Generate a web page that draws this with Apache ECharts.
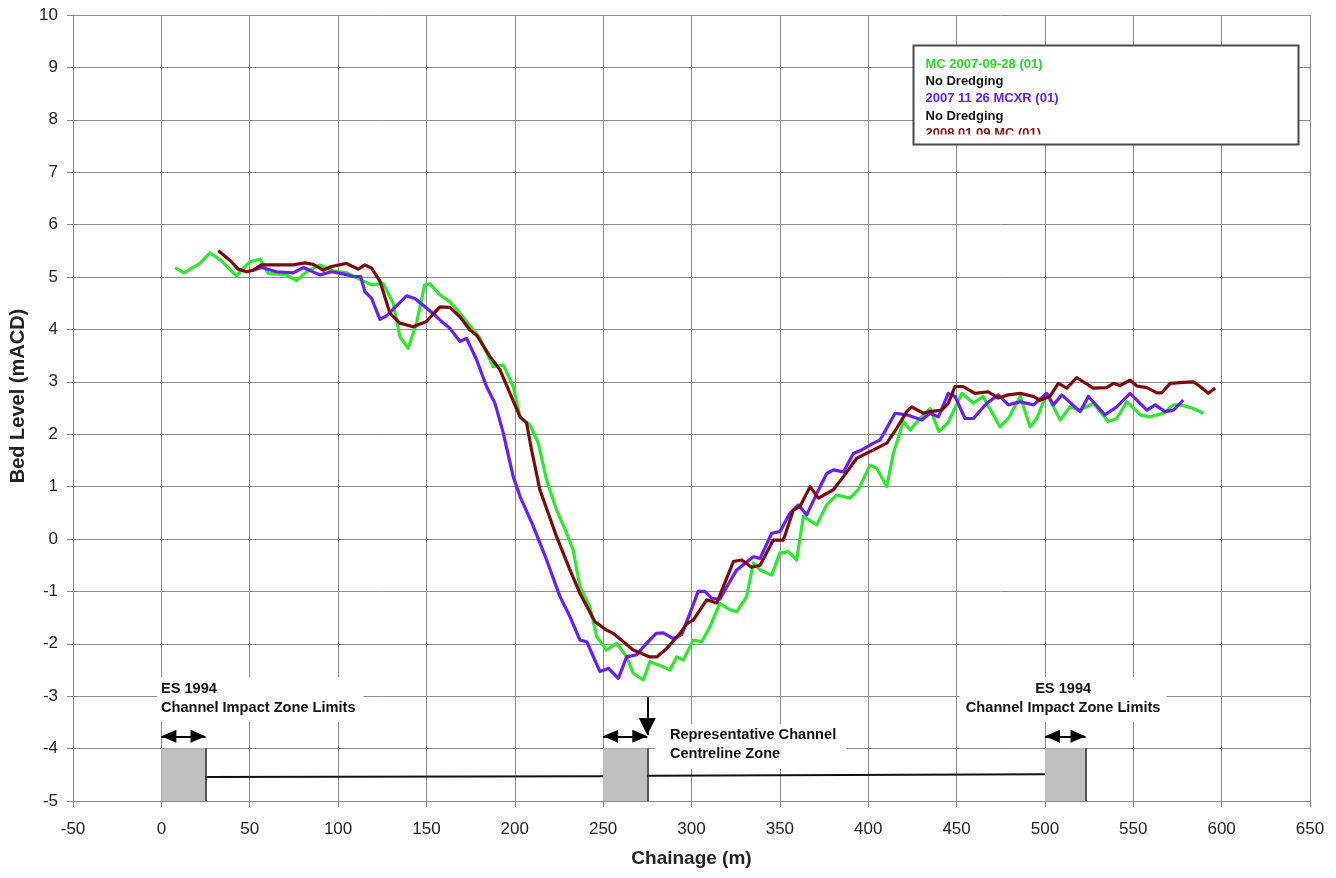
<!DOCTYPE html>
<html>
<head>
<meta charset="utf-8">
<title>Bed Level Cross Section</title>
<script src="https://cdn.jsdelivr.net/npm/echarts@6/dist/echarts.min.js"></script>
<style>
  html, body { margin: 0; padding: 0; background: #ffffff; }
  #chart { width: 1336px; height: 878px; }
</style>
</head>
<body>
<div id="chart"></div>
<script>
// Surveyed bed level profiles: [chainage (m), bed level (mACD)]
const survey2007Sep = [
  [7.7,5.18],[12.9,5.08],[21.8,5.26],[27.5,5.46],[34,5.31],[42.5,5.02],[50,5.29],[55.8,5.34],
  [60.5,5.07],[70.9,5.04],[76.5,4.93],[82.2,5.10],[89.7,5.23],[97,5.12],[104.8,5.08],[113.3,4.94],
  [119,4.85],[125.5,4.88],[131.2,4.50],[135,3.86],[139.7,3.64],[144.4,4.12],[149,4.85],[152,4.87],
  [157.6,4.66],[163.3,4.53],[168,4.35],[172.7,4.15],[180,3.85],[187.8,3.29],[193.5,3.32],[199.1,2.91],
  [203,2.33],[208.6,2.18],[213.3,1.83],[218,1.13],[223.7,0.55],[229.4,0.11],[233,-0.21],[236.9,-0.91],
  [242.5,-1.29],[246.3,-1.86],[252,-2.12],[257.6,-1.99],[263.3,-2.25],[267,-2.56],[272.7,-2.69],
  [276.5,-2.34],[284,-2.44],[287.8,-2.50],[291.6,-2.25],[295.4,-2.31],[301,-1.93],[305.8,-1.96],
  [310.5,-1.67],[316,-1.23],[321.8,-1.35],[325.6,-1.39],[331.2,-1.10],[335,-0.46],[338.8,-0.59],
  [345.4,-0.69],[350,-0.27],[354.8,-0.24],[359.5,-0.40],[363.3,0.43],[370.9,0.27],[376.5,0.65],
  [382.2,0.84],[389.7,0.78],[394.4,0.94],[401,1.41],[404.8,1.35],[410.5,1.00],[414.2,1.63],
  [419.9,2.24],[423.7,2.08],[429.3,2.30],[435,2.49],[440,2.05],[445,2.21],[453,2.78],[459.5,2.59],
  [465,2.72],[474.6,2.14],[479.3,2.30],[486,2.72],[491.6,2.14],[495.4,2.30],[501,2.78],[508.6,2.27],
  [514.2,2.52],[519.9,2.46],[527.4,2.59],[535.9,2.24],[540.6,2.30],[546.3,2.62],[553.9,2.37],
  [559.5,2.33],[567,2.40],[572.7,2.56],[576.5,2.56],[584,2.49],[589.7,2.40]
];

const survey2007Nov = [
  [52,5.13],[56.7,5.18],[65.2,5.10],[74.6,5.08],[80.3,5.18],[89.7,5.04],[96.3,5.10],[102.9,5.06],
  [108.6,5.01],[112.7,5.01],[115.2,4.72],[119,4.59],[123.7,4.19],[127.5,4.26],[133,4.45],[138.8,4.64],
  [143.5,4.59],[148.5,4.45],[153.9,4.30],[158.6,4.15],[163.3,4.02],[169,3.77],[172.7,3.83],[178.4,3.42],
  [184,2.91],[188.8,2.59],[193.5,2.02],[199.1,1.19],[203,0.81],[210.5,0.24],[218,-0.40],[225.6,-1.10],
  [231.2,-1.48],[236.9,-1.93],[240.7,-1.96],[248.2,-2.53],[253,-2.47],[258.6,-2.66],[263.3,-2.25],
  [269,-2.21],[274.6,-1.99],[280,-1.80],[284,-1.79],[289.7,-1.90],[294.4,-1.83],[299.1,-1.42],
  [303.8,-1.00],[307.6,-1.00],[311.4,-1.13],[316,-1.15],[320,-0.91],[325.6,-0.59],[335,-0.34],
  [338.8,-0.37],[345.4,0.11],[350,0.14],[355.7,0.49],[360.5,0.65],[365.2,0.46],[370.9,0.87],
  [376.5,1.25],[380.3,1.32],[386,1.28],[391.6,1.63],[396.3,1.70],[403,1.83],[406.7,1.89],[415.2,2.40],
  [421.8,2.37],[430.3,2.27],[435,2.40],[439.7,2.33],[445.3,2.78],[449.1,2.72],[454.8,2.30],[459.5,2.30],
  [467.1,2.59],[473.6,2.75],[479.3,2.56],[486,2.62],[493.5,2.56],[501,2.78],[504.8,2.56],[509.5,2.75],
  [519.9,2.43],[524.6,2.72],[534,2.37],[540.6,2.52],[548.2,2.78],[557.7,2.46],[562.4,2.56],[568,2.43],
  [572.7,2.46],[578.3,2.65]
];

const survey2008Jan = [
  [32.2,5.50],[38.8,5.32],[43.5,5.15],[48.2,5.10],[52,5.13],[56.7,5.23],[65.2,5.23],[74.6,5.23],
  [81.2,5.27],[85.9,5.24],[91.6,5.13],[96.3,5.20],[104.8,5.26],[107.6,5.21],[111.4,5.15],[115.2,5.23],
  [119,5.17],[123.7,4.92],[126.5,4.62],[129.3,4.31],[135,4.12],[142.5,4.05],[150,4.15],[157.6,4.43],
  [163.3,4.42],[169,4.24],[174.6,3.99],[178.4,3.89],[186,3.48],[191.6,3.23],[197.3,2.78],[203,2.33],
  [206.7,2.21],[209.5,1.70],[214.2,0.94],[223.7,0.04],[231.2,-0.59],[236.9,-1.04],[245.4,-1.58],
  [252,-1.74],[255.7,-1.80],[261.4,-1.96],[267,-2.12],[276.5,-2.25],[280.3,-2.25],[286,-2.09],
  [293.5,-1.80],[297.3,-1.62],[301,-1.55],[308.6,-1.16],[314.3,-1.22],[323.7,-0.43],[328.4,-0.40],
  [334,-0.54],[338.8,-0.50],[346.3,-0.02],[352,-0.02],[357.6,0.55],[361.4,0.62],[367.1,1.00],
  [371.8,0.78],[380.3,0.94],[386,1.19],[393.5,1.54],[403,1.70],[410.5,1.83],[416.1,2.11],[421.8,2.43],
  [424.6,2.52],[431.2,2.40],[435,2.43],[441.6,2.46],[445.3,2.59],[449.1,2.91],[453.8,2.91],[460.4,2.78],
  [467.9,2.81],[473.6,2.69],[479.3,2.75],[486,2.78],[493.5,2.72],[497.2,2.65],[502.8,2.72],[507.6,2.97],
  [512.4,2.88],[518,3.08],[527.4,2.88],[535,2.89],[538.7,2.97],[542.5,2.93],[548.2,3.03],[552,2.92],
  [557.7,2.89],[563.4,2.79],[566.1,2.79],[570.9,2.97],[578.3,2.99],[584,3.00],[587.8,2.91],[592.5,2.78],
  [596.3,2.88]
];

const seriesNames = ['MC 2007-09-28 (01)', '2007 11 26 MCXR (01)', '2008 01 09 MC (01)'];
const seriesColors = ['#2ee82e', '#6a1ef0', '#7d0a0a'];

// Legend text lines: [text, rich style key]
const legendLines = [
  ['MC 2007-09-28 (01)', 'g'],
  ['No Dredging', 'k'],
  ['2007 11 26 MCXR (01)', 'p'],
  ['No Dredging', 'k'],
  ['2008 01 09 MC (01)', 'r']
];

// Channel zone annotations (chainage in m, level in mACD)
const zoneSpans = [[0, 25], [250, 275], [500, 523]];
const zoneTop = -4;
const zoneBottom = -5;
const baselineSegments = [
  [[25, -4.54], [250, -4.53]],
  [[275, -4.52], [500, -4.49]]
];
const spanArrowLevel = -3.765;
const centrelineArrow = [[275, -3.02], [275, -3.74]];
const zoneLabels = [
  { text: 'ES 1994\nChannel Impact Zone Limits', at: [-2.5, -2.634], align: 'left' },
  { text: 'Representative Channel\nCentreline Zone', at: [279.3, -3.53], align: 'left' },
  { text: 'ES 1994\nChannel Impact Zone Limits', at: [510.3, -2.634], align: 'center' }
];

const FONT = "'Liberation Sans', Arial, Helvetica, sans-serif";
const chart = echarts.init(document.getElementById('chart'), null, { renderer: 'canvas' });

const profileSeries = [survey2007Sep, survey2007Nov, survey2008Jan].map((d, i) => ({
  name: seriesNames[i],
  type: 'line',
  data: d,
  showSymbol: false,
  symbol: 'none',
  smooth: false,
  lineStyle: { color: seriesColors[i], width: 3.2, join: 'round' },
  itemStyle: { color: seriesColors[i] },
  z: 5 + i,
  animation: false
}));

// Zone boxes, baseline, arrows
const annotationSeries = {
  name: 'zones',
  type: 'line',
  data: [],
  symbol: 'none',
  silent: true,
  z: 3,
  animation: false,
  markArea: {
    silent: true,
    itemStyle: { color: '#c0c0c0', opacity: 1 },
    data: zoneSpans.map(s => [{ coord: [s[0], zoneTop] }, { coord: [s[1], zoneBottom] }])
  },
  markLine: {
    silent: true,
    animation: false,
    label: { show: false },
    emphasis: { disabled: true },
    data: [].concat(
      baselineSegments.map(seg => [
        { coord: seg[0], symbol: 'none', lineStyle: { color: '#111', width: 2, type: 'solid' } },
        { coord: seg[1], symbol: 'none' }
      ]),
      zoneSpans.map(s => [
        { coord: [s[1], zoneTop], symbol: 'none', lineStyle: { color: '#222', width: 1.5, type: 'solid' } },
        { coord: [s[1], zoneBottom], symbol: 'none' }
      ]),
      zoneSpans.map(s => [
        { coord: [s[0], spanArrowLevel], symbol: 'triangle', symbolSize: [13, 15], symbolOffset: [0, 7.5],
          lineStyle: { color: '#000', width: 2, type: 'solid' }, itemStyle: { color: '#000' } },
        { coord: [s[1], spanArrowLevel], symbol: 'triangle', symbolSize: [13, 15], symbolOffset: [0, 7.5] }
      ]),
      [[
        { coord: centrelineArrow[0], symbol: 'none', lineStyle: { color: '#000', width: 2, type: 'solid' } },
        { coord: centrelineArrow[1], symbol: 'triangle', symbolSize: [17, 17], symbolOffset: [0, 8.5], itemStyle: { color: '#000' } }
      ]]
    ),
    symbol: ['none', 'none']
  }
};

// Text boxes with white backgrounds
const labelRich = {
  b: { fontFamily: FONT, fontWeight: 'bold', fontSize: 14.6, lineHeight: 19, color: '#111111' }
};
const labelSeries = {
  name: 'zoneLabels',
  type: 'scatter',
  symbolSize: 0,
  silent: true,
  z: 4,
  animation: false,
  itemStyle: { opacity: 1 },
  emphasis: { disabled: true },
  label: { show: true, fontWeight: 'bold', color: '#111111' },
  data: zoneLabels.map((l, i) => ({
    value: l.at,
    label: {
      show: true,
      formatter: l.text.split('\n').map(t => '{b|' + t + '}').join('\n'),
      rich: labelRich,
      position: [0, 0],
      align: l.align,
      verticalAlign: 'top',
      fontFamily: FONT,
      fontWeight: 'bold',
      fontSize: 14.6,
      lineHeight: 19,
      color: '#111111',
      opacity: 1,
      backgroundColor: '#ffffff',
      padding: i === 1 ? [1, 10, 6, 15] : (l.align === 'center' ? [2, 6, 5, 6] : [2, 8, 5, 4])
    }
  }))
};

const option = {
  backgroundColor: '#ffffff',
  animation: false,
  textStyle: { fontFamily: FONT },
  grid: { left: 73, right: 26, top: 15, bottom: 77, containLabel: false },
  xAxis: {
    type: 'value',
    min: -50,
    max: 650,
    interval: 50,
    name: 'Chainage (m)',
    nameLocation: 'middle',
    nameGap: 48,
    nameTextStyle: { fontFamily: FONT, fontWeight: 'bold', fontSize: 19, color: '#222' },
    axisLine: { show: true, onZero: false, lineStyle: { color: '#888', width: 1 } },
    axisTick: { show: true, inside: false, length: 6, lineStyle: { color: '#888' } },
    axisLabel: { fontFamily: FONT, fontSize: 17, color: '#222', margin: 20 },
    splitLine: { show: true, lineStyle: { color: '#8c8c8c', width: 1 } }
  },
  yAxis: {
    type: 'value',
    min: -5,
    max: 10,
    interval: 1,
    name: 'Bed Level (mACD)',
    nameLocation: 'middle',
    nameGap: 43,
    nameTextStyle: { fontFamily: FONT, fontWeight: 'bold', fontSize: 20, color: '#222', padding: [0, 0, 0, 24] },
    axisLine: { show: true, onZero: false, lineStyle: { color: '#888', width: 1 } },
    axisTick: { show: true, inside: false, length: 6, lineStyle: { color: '#888' } },
    axisLabel: { fontFamily: FONT, fontSize: 17, color: '#222', margin: 15 },
    splitLine: { show: true, lineStyle: { color: '#8c8c8c', width: 1 } }
  },
  legend: { show: false },
  tooltip: { show: false },
  series: profileSeries.concat([annotationSeries, labelSeries]),
  graphic: [
    {
      type: 'group',
      left: 911,
      top: 43,
      z: 100,
      children: [
        { type: 'rect', shape: { x: 0, y: 0, width: 385, height: 99 }, style: { fill: '#ffffff' }, z: 100 },
        {
          type: 'text',
          x: 12,
          y: 10,
          z: 101,
          style: {
            text: legendLines.map(l => '{' + l[1] + '|' + l[0] + '}').join('\n'),
            font: 'bold 13px ' + FONT,
            rich: {
              g: { fill: '#22dd22', fontWeight: 'bold', fontSize: 13, fontFamily: FONT, lineHeight: 17.3 },
              k: { fill: '#111111', fontWeight: 'bold', fontSize: 13, fontFamily: FONT, lineHeight: 17.3 },
              p: { fill: '#6a1ef0', fontWeight: 'bold', fontSize: 13, fontFamily: FONT, lineHeight: 17.3 },
              r: { fill: '#8b1010', fontWeight: 'bold', fontSize: 13, fontFamily: FONT, lineHeight: 17.3 }
            }
          }
        },
        // inner bottom margin of the text box hides overflowing text
        { type: 'rect', shape: { x: 1, y: 89, width: 383, height: 9 }, style: { fill: '#ffffff' }, z: 102 },
        { type: 'rect', shape: { x: 0, y: 0, width: 385, height: 99 }, style: { fill: 'none', stroke: '#4a4a4a', lineWidth: 2 }, z: 103 }
      ]
    }
  ]
};

chart.setOption(option);
</script>
</body>
</html>
